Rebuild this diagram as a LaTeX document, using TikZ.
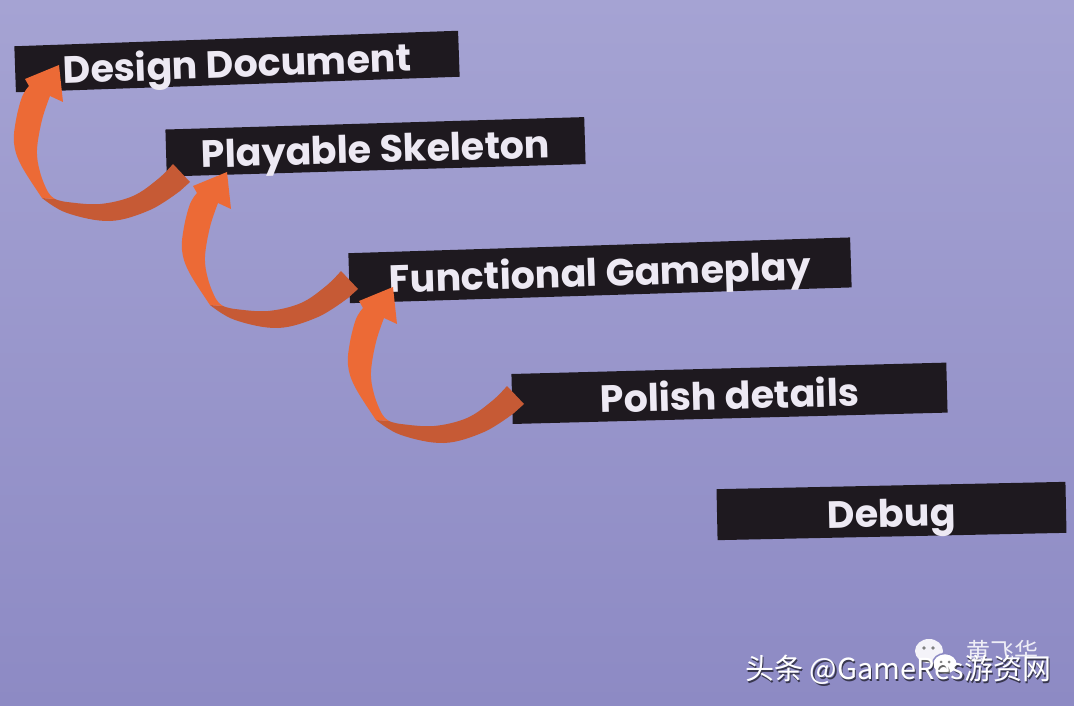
\documentclass[tikz,border=0pt]{standalone}
\usepackage{fontspec}
\usetikzlibrary{calc}
\setmainfont{Poppins}
\newfontfamily\cjk{Noto Sans CJK SC}
\definecolor{bgtop}{HTML}{A5A3D3}
\definecolor{bgbot}{HTML}{8D8AC4}
\definecolor{barblack}{HTML}{1E191F}
\definecolor{bartext}{HTML}{EDE9F3}
\definecolor{arrowbright}{HTML}{EC6A36}
\definecolor{arrowdark}{HTML}{C65A35}
\tikzset{
  bar/.style={fill=barblack, text=bartext, inner sep=0pt,
    text height=32pt, text depth=0pt,
    font=\fontsize{38}{40}\selectfont\bfseries},
  curvarrow/.pic={
    \fill[arrowdark] (114,99) -- (131,117) -- (121,126)
      -- plot[smooth,tension=0.6] coordinates {(121,126) (91,145) (51,156) (8,148) (-17,133)}
      -- (-4,134)
      -- plot[smooth,tension=0.6] coordinates {(-4,134) (8,137) (41,139) (74,131) (99,114) (114,99)}
      -- cycle;
    \fill[arrowbright]
      plot[smooth,tension=0.6] coordinates {(-17,133) (-38,100) (-45,78) (-43,55) (-37,32) (-30,21)}
      -- (-34,14) -- (0,0) -- (4,37) -- (-9,31)
      -- plot[smooth,tension=0.6] coordinates {(-9,31) (-17,55) (-22,85) (-19,107) (-11,127) (-4,134)}
      -- cycle;
  },
  wm/.style={font=\cjk\fontsize{29}{31}\selectfont, text=white, inner sep=0pt}
}
\begin{document}
\begin{tikzpicture}[x=1pt,y=-1pt]
\useasboundingbox (0,0) rectangle (1074,706);
\shade[top color=bgtop, bottom color=bgbot] (0,0) rectangle (1074,706);

% bars
\node[bar, minimum width=444pt, minimum height=46pt, rotate=2.0] (b1) at (237,61.5) {Design Document};
\node[bar, minimum width=419pt, minimum height=47pt, rotate=1.7] (b2) at (375.5,146.8) {Playable Skeleton};
\node[bar, minimum width=502pt, minimum height=50pt, rotate=1.8] (b3) at (600,270.3) {Functional Gameplay};
\node[bar, minimum width=435pt, minimum height=50pt, rotate=1.5] (b4) at (729.5,393.3) {Polish details};
\node[bar, minimum width=349pt, minimum height=51pt, rotate=1.2] (b5) at (891.5,511) {Debug};

% arrows (head tips)
\coordinate (h1) at (59,65);
\coordinate (h2) at (227,172);
\coordinate (h3) at (393,287);
\pic at (h1) {curvarrow};
\pic at (h2) {curvarrow};
\pic at (h3) {curvarrow};

% watermark
\node[font=\cjk\fontsize{24}{26}\selectfont, text=white, opacity=0.85, anchor=west] (name) at (963,651) {黄飞华};
\coordinate (wc) at (929,651);
\fill[white, opacity=0.9] (wc) ellipse (14 and 12);
\fill[white, draw=bgbot, line width=1.5pt] ($(wc)+(16,13)$) ellipse (12.5 and 10.5);
\fill[gray] ($(wc)+(-5,-3)$) circle (1.8) ($(wc)+(4,-3)$) circle (1.8);
\fill[gray] ($(wc)+(12,11)$) circle (1.5) ($(wc)+(20,11)$) circle (1.5);
\node[wm, text=black, opacity=0.6, anchor=west] at (746.5,671.5) {头条 @GameRes游资网};
\node[wm, anchor=west] (wmark) at (745,670) {头条 @GameRes游资网};
\end{tikzpicture}
\end{document}
